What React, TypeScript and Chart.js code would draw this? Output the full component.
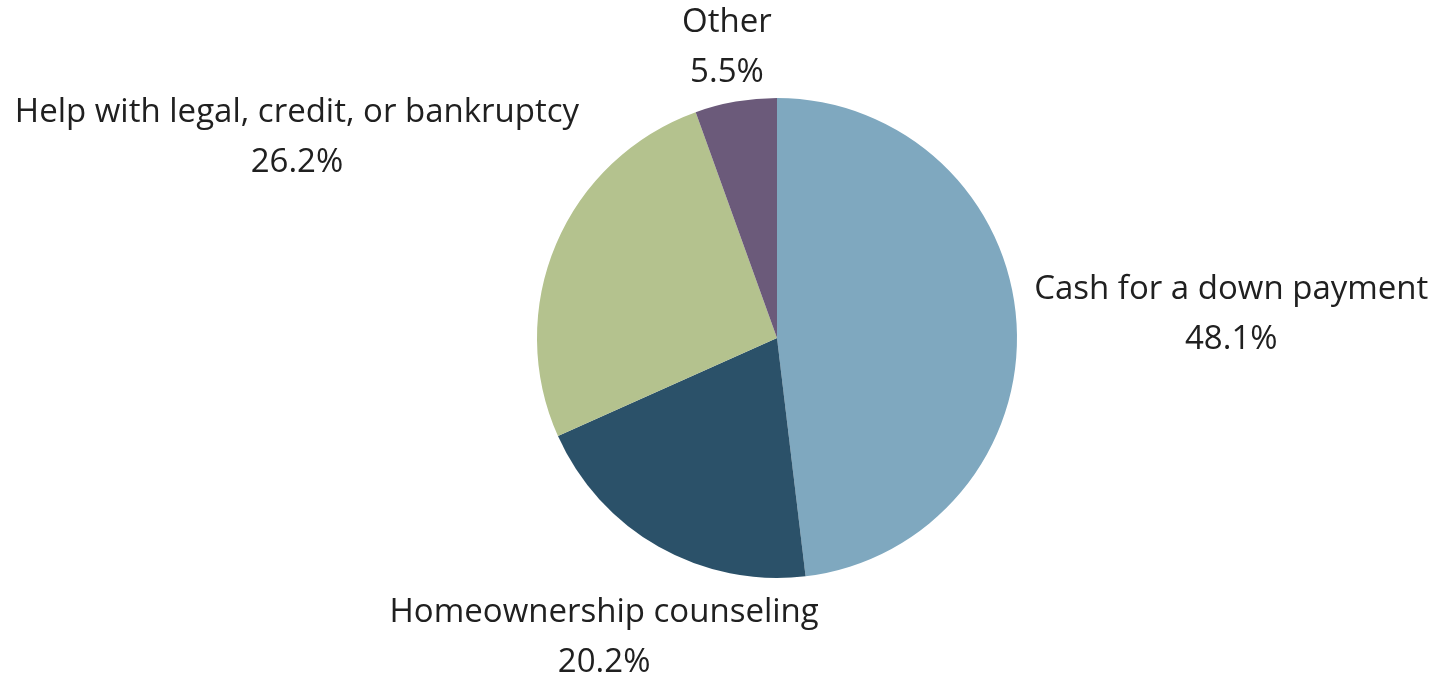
import React, { useEffect, useRef } from "react";
import { Chart, registerables } from "chart.js";

Chart.register(...registerables);

const categories: string[] = [
  "Cash for a down payment",
  "Homeownership counseling",
  "Help with legal, credit, or bankruptcy",
  "Other",
];
const shares: number[] = [48.1, 20.2, 26.2, 5.5];
const sliceColors: string[] = ["#7fa8bf", "#2b5169", "#b4c28e", "#6b5a7a"];

// fine positioning of the outside labels (px), relative to the rule-based spot
const labelNudges: [number, number][] = [
  [0, -8],
  [60, 31],
  [17, -83],
  [2, 8],
];

const FONT = '33px "Open Sans"';
const LINE_GAP = 50;

const labelPlugin = {
  id: "outsideLabels",
  afterDraw(chart: any) {
    const ctx = chart.ctx;
    const meta = chart.getDatasetMeta(0);
    ctx.save();
    ctx.font = FONT;
    ctx.fillStyle = "#202020";
    ctx.textAlign = "center";
    ctx.textBaseline = "alphabetic";
    meta.data.forEach((arc: any, i: number) => {
      const p = arc.getProps(["x", "y", "startAngle", "endAngle", "outerRadius"], true);
      const mid = (p.startAngle + p.endAngle) / 2;
      const c = Math.cos(mid);
      const s = Math.sin(mid);
      const l1 = categories[i];
      const l2 = shares[i].toFixed(1) + "%";
      const w = Math.max(ctx.measureText(l1).width, ctx.measureText(l2).width);
      const d = p.outerRadius + 18;
      const px = p.x + d * c;
      const py = p.y + d * s;
      const cx = px + (c * w) / 2 + labelNudges[i][0];
      const cy = py + s * 48 + labelNudges[i][1];
      ctx.fillText(l1, cx, cy - LINE_GAP / 2 + 12);
      ctx.fillText(l2, cx, cy + LINE_GAP / 2 + 12);
    });
    ctx.restore();
  },
};

export default function App() {
  const ref = useRef<HTMLCanvasElement | null>(null);
  useEffect(() => {
    if (!ref.current) return;
    const chart = new Chart(ref.current, {
      type: "pie",
      data: {
        labels: categories,
        datasets: [
          {
            data: shares,
            backgroundColor: sliceColors,
            borderWidth: 0,
          },
        ],
      },
      options: {
        responsive: true,
        maintainAspectRatio: false,
        animation: false,
        layout: { padding: { top: 98, bottom: 97, left: 537, right: 416 } },
        plugins: {
          legend: { display: false },
          tooltip: { enabled: false },
        },
      },
      plugins: [labelPlugin],
    });
    return () => chart.destroy();
  }, []);
  return (
    <div
      style={{
        width: 1433,
        height: 675,
        position: "absolute",
        left: 0,
        top: 0,
        background: "#ffffff",
      }}
    >
      <canvas ref={ref} />
    </div>
  );
}
